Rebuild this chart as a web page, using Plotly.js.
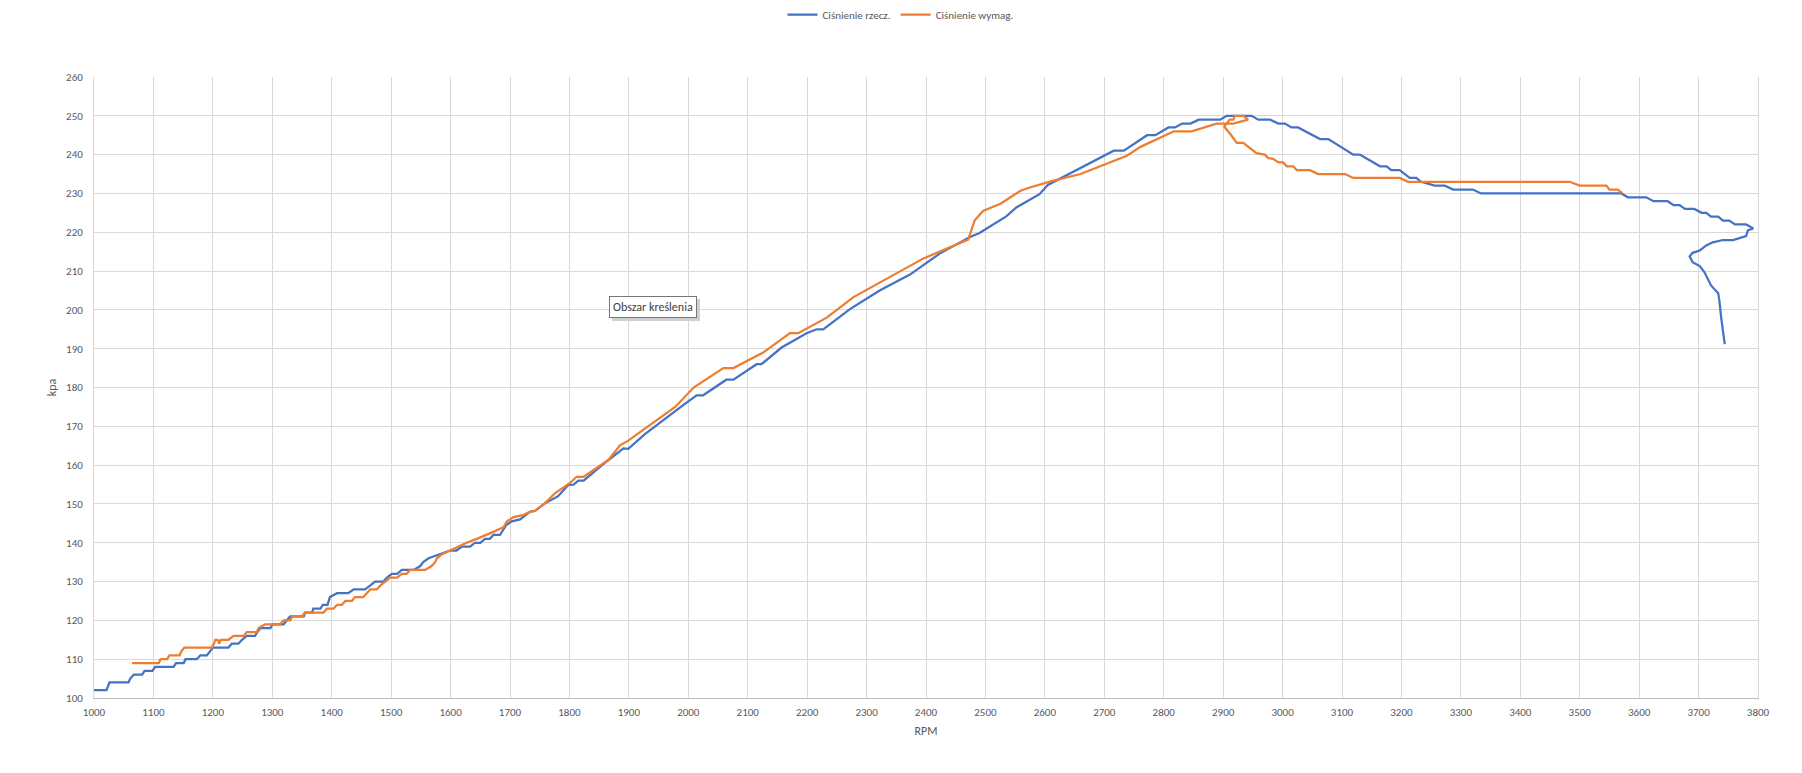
<!DOCTYPE html>
<html>
<head>
<meta charset="utf-8">
<script src="https://cdn.plot.ly/plotly-3.0.1.min.js"></script>
<style>
  html, body { margin: 0; padding: 0; background: #fff; }
  #myDiv { width: 1802px; height: 773px; }
</style>
</head>
<body>
<div id="myDiv"></div>
<script>
// Ciśnienie rzeczywiste (blue)
var rpmRzecz = [1000, 1021, 1026, 1058, 1061, 1067, 1081, 1085, 1098, 1103, 1134, 1138, 1151, 1154, 1173, 1179, 1190, 1195, 1200, 1226,
  1232, 1243, 1249, 1257, 1271, 1275, 1280, 1297, 1300, 1319, 1325, 1330, 1353, 1355, 1367, 1369, 1381, 1385, 1393, 1397,
  1409, 1428, 1437, 1456, 1465, 1473, 1487, 1493, 1501, 1510, 1518, 1538, 1549, 1554, 1563, 1580, 1599, 1610, 1619, 1633,
  1641, 1650, 1658, 1666, 1672, 1683, 1694, 1703, 1717, 1734, 1742, 1759, 1781, 1798, 1807, 1815, 1824, 1863, 1891, 1899,
  1927, 1992, 2014, 2025, 2064, 2076, 2115, 2123, 2157, 2199, 2216, 2227, 2272, 2322, 2373, 2423, 2474, 2490, 2535, 2552,
  2591, 2605, 2654, 2716, 2733, 2772, 2786, 2808, 2819, 2831, 2845, 2859, 2895, 2906, 2948, 2959, 2979, 2993, 3004, 3015,
  3026, 3063, 3077, 3119, 3130, 3164, 3175, 3183, 3197, 3214, 3225, 3233, 3256, 3273, 3287, 3320, 3334, 3570, 3581, 3612,
  3624, 3648, 3658, 3668, 3677, 3693, 3705, 3713, 3721, 3733, 3741, 3752, 3761, 3780, 3792, 3783, 3780, 3772, 3758, 3741,
  3724, 3713, 3702, 3690, 3685, 3690, 3702, 3710, 3721, 3733, 3735, 3738, 3744];
var kpaRzecz = [102, 102, 104, 104, 105, 106, 106, 107, 107, 108, 108, 109, 109, 110, 110, 111, 111, 112, 113, 113,
  114, 114, 115, 116, 116, 117, 118, 118, 119, 119, 120, 121, 121, 122, 122, 123, 123, 124, 124, 126,
  127, 127, 128, 128, 129, 130, 130, 131, 132, 132, 133, 133, 134, 135, 136, 137, 138, 138, 139, 139,
  140, 140, 141, 141, 142, 142, 144.6, 145.5, 146, 148, 148.2, 150.2, 152, 154.9, 155, 156, 156, 161, 164.3, 164.2,
  168, 175.5, 178, 178, 182, 182, 186, 186, 190.3, 194, 195, 195, 200.2, 205, 209.1, 214.5, 218.8, 219.8, 224.1, 226.4,
  229.8, 232.2, 236.1, 241, 241, 245, 245, 247, 247, 248, 248, 249, 249, 250, 250, 249, 249, 248, 248, 247,
  247, 244, 244, 240, 240, 237, 237, 236, 236, 234, 234, 233, 232, 232, 231, 231, 230, 230, 229, 229,
  228, 228, 227, 227, 226, 226, 225, 225, 224, 224, 223, 223, 222, 222, 221, 220.5, 219, 218.7, 218, 218,
  217.4, 216.6, 215.3, 214.7, 213.8, 212.3, 211.3, 209.7, 206.3, 204.3, 202.4, 198.1, 191.2];

// Ciśnienie wymagane (orange)
var rpmWymag = [1064, 1109, 1112, 1123, 1127, 1144, 1147, 1152, 1198, 1202, 1204, 1208, 1211, 1213, 1226, 1235, 1252, 1257, 1274, 1277,
  1288, 1313, 1319, 1330, 1334, 1350, 1355, 1386, 1392, 1403, 1409, 1417, 1423, 1434, 1439, 1453, 1459, 1465, 1476, 1482,
  1490, 1498, 1510, 1518, 1526, 1532, 1557, 1568, 1574, 1577, 1585, 1599, 1613, 1627, 1644, 1661, 1675, 1689, 1695, 1706,
  1723, 1734, 1742, 1759, 1776, 1801, 1812, 1824, 1866, 1885, 1899, 1978, 2009, 2059, 2076, 2126, 2171, 2185, 2233, 2278,
  2339, 2395, 2471, 2482, 2496, 2526, 2559, 2576, 2610, 2660, 2738, 2761, 2817, 2847, 2889, 2906, 2917, 2942, 2938, 2934,
  2920, 2917, 2911, 2906, 2902, 2912, 2923, 2934, 2956, 2970, 2976, 2984, 2993, 3001, 3007, 3018, 3024, 3046, 3060, 3105,
  3119, 3197, 3211, 3483, 3500, 3545, 3550, 3564, 3572];
var kpaWymag = [109, 109, 110, 110, 111, 111, 112, 113, 113, 114, 115, 115, 114, 115, 115, 116, 116, 117, 117, 118,
  119, 119, 120, 120, 121, 121, 122, 122, 123, 123, 124, 124, 125, 125, 126, 126, 127, 128, 128, 129,
  130, 131, 131, 132, 132, 133, 133, 134, 135, 136, 137, 138, 139, 140, 141, 142, 143, 144, 145.5, 146.6,
  147.2, 148, 148.2, 150.2, 152.8, 155.4, 157, 157, 161.4, 165.1, 166.3, 175, 180, 185, 185, 189, 194, 194, 198, 203.3,
  208.4, 213.2, 218.1, 223.1, 225.5, 227.4, 230.7, 231.6, 233.1, 235, 239.7, 242, 246, 246, 248, 248, 248, 249, 249.5, 250,
  250, 249, 249, 248, 247.2, 245.3, 243, 243, 240.4, 240, 239.1, 238.9, 238, 238, 237, 237, 236, 236, 235, 235,
  234, 234, 233, 233, 232, 232, 231, 231, 230];

var xTicks = [1000, 1100, 1200, 1300, 1400, 1500, 1600, 1700, 1800, 1900, 2000, 2100, 2200, 2300, 2400,
  2500, 2600, 2700, 2800, 2900, 3000, 3100, 3200, 3300, 3400, 3500, 3600, 3700, 3800];
var yTicks = [100, 110, 120, 130, 140, 150, 160, 170, 180, 190, 200, 210, 220, 230, 240, 250, 260];

var font = 'Calibri, Carlito, "Open Sans", sans-serif';

var trace1 = {
  x: rpmRzecz,
  y: kpaRzecz,
  name: 'Ciśnienie rzecz.',
  type: 'scatter',
  mode: 'lines',
  line: { color: '#4472C4', width: 2.25 }
};
var trace2 = {
  x: rpmWymag,
  y: kpaWymag,
  name: 'Ciśnienie wymag.',
  type: 'scatter',
  mode: 'lines',
  line: { color: '#ED7D31', width: 2.25 }
};

var layout = {
  width: 1802,
  height: 773,
  margin: { l: 94, r: 44, t: 77, b: 75 },
  paper_bgcolor: '#ffffff',
  plot_bgcolor: '#ffffff',
  font: { family: font, size: 11, color: '#595959' },
  showlegend: true,
  legend: {
    orientation: 'h',
    xref: 'container',
    yref: 'container',
    x: 0.5,
    xanchor: 'center',
    y: 1,
    yanchor: 'top',
    font: { family: font, size: 11, color: '#595959' }
  },
  xaxis: {
    title: { text: 'RPM', font: { family: font, size: 12, color: '#595959' }, standoff: 8 },
    range: [1000, 3800],
    tickvals: xTicks,
    ticktext: xTicks.map(String),
    showgrid: true,
    gridcolor: '#D9D9D9',
    gridwidth: 1,
    zeroline: false,
    showline: true,
    linecolor: '#BFBFBF',
    ticks: 'outside',
    ticklen: 4,
    tickcolor: 'rgba(0,0,0,0)'
  },
  yaxis: {
    title: { text: 'kpa', font: { family: font, size: 12, color: '#595959' }, standoff: 6 },
    range: [100, 260],
    tickvals: yTicks,
    ticktext: yTicks.map(String),
    showgrid: true,
    gridcolor: '#D9D9D9',
    gridwidth: 1,
    zeroline: false,
    showline: true,
    mirror: true,
    linecolor: '#D9D9D9',
    ticks: 'outside',
    ticklen: 8,
    tickcolor: 'rgba(0,0,0,0)'
  },
  annotations: [
    {
      xref: 'paper', yref: 'paper', x: 0.336, y: 0.630,
      text: 'Obszar kreślenia', showarrow: false,
      font: { family: font, size: 12, color: 'rgba(0,0,0,0)' },
      bgcolor: '#d0d0d0', bordercolor: '#d0d0d0', borderwidth: 1, borderpad: 3,
      xshift: 3, yshift: -3
    },
    {
      xref: 'paper', yref: 'paper', x: 0.336, y: 0.630,
      text: 'Obszar kreślenia', showarrow: false,
      font: { family: font, size: 12, color: '#404040' },
      bgcolor: '#ffffff', bordercolor: '#767676', borderwidth: 1, borderpad: 3
    }
  ]
};

Plotly.newPlot('myDiv', [trace1, trace2], layout, { displayModeBar: false, staticPlot: true });
</script>
</body>
</html>
